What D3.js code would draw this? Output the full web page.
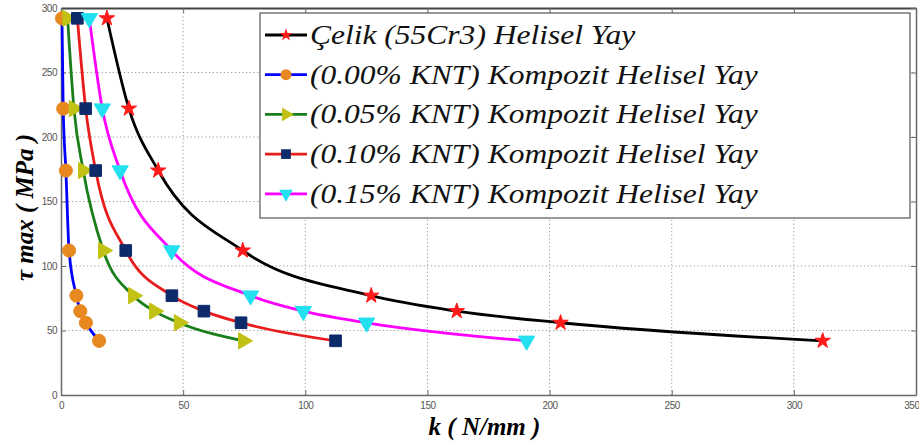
<!DOCTYPE html>
<html>
<head>
<meta charset="utf-8">
<script src="https://cdn.jsdelivr.net/npm/d3@7"></script>
<style>
  body { margin: 0; background: #fff; }
  svg { display: block; }
</style>
</head>
<body>
<script>
// tau max (MPa) levels, shared by every series
const tauValues = [292, 222, 174, 112, 77, 65, 56, 42];

// k (N/mm) for each spring
const kSteel = [18.8, 27.8, 39.8, 74.4, 127, 162, 204.5, 311.8];
const kKnt000 = [0.4, 0.9, 2.0, 3.3, 6.3, 7.9, 10.2, 15.6];
const kKnt005 = [2.7, 5.3, 9.1, 17.3, 29.6, 38.2, 48.3, 74.6];
const kKnt010 = [6.7, 10.1, 14.2, 26.5, 45.4, 58.5, 73.7, 112.4];
const kKnt015 = [11.6, 16.9, 24.2, 45.3, 77.6, 99.2, 125.1, 190.6];

const seriesNames = [
    'Çelik (55Cr3) Helisel Yay',
    '(0.00% KNT) Kompozit Helisel Yay',
    '(0.05% KNT) Kompozit Helisel Yay',
    '(0.10% KNT) Kompozit Helisel Yay',
    '(0.15% KNT) Kompozit Helisel Yay'
];

const xTicks = [0, 50, 100, 150, 200, 250, 300, 350];
const yTicks = [0, 50, 100, 150, 200, 250, 300];

const width = 919, height = 445;
const margin = {left: 61, right: 3, top: 8, bottom: 50};
const serifFont = 'Liberation Serif';

const styles = [
    {line: '#000000', fill: '#ff1a1a', symbol: d3.symbolStar, size: 75, rot: 0},
    {line: '#0000ff', fill: '#e8891f', symbol: d3.symbolCircle, size: 135, rot: 0},
    {line: '#1a7f1a', fill: '#c2c214', symbol: d3.symbolTriangle, size: 115, rot: 90},
    {line: '#e81c1c', fill: '#0d2a6b', symbol: d3.symbolSquare, size: 135, rot: 0},
    {line: '#ff00ff', fill: '#22e0f0', symbol: d3.symbolTriangle, size: 115, rot: 180}
];

const series = [kSteel, kKnt000, kKnt005, kKnt010, kKnt015].map((ks, i) => ({
    name: seriesNames[i],
    style: styles[i],
    points: ks.map((k, j) => ({k: k, tau: tauValues[j]}))
}));

const x = d3.scaleLinear().domain([0, 350]).range([margin.left, width - margin.right]);
const y = d3.scaleLinear().domain([0, 300]).range([height - margin.bottom, margin.top]);

const svg = d3.select('body').append('svg')
    .attr('width', width)
    .attr('height', height);

// dotted grid
const grid = svg.append('g').attr('stroke', '#9a9a9a').attr('stroke-dasharray', '1.2,2.5').attr('stroke-width', 1);
grid.selectAll('line.vx')
    .data(xTicks.slice(1, -1))
    .join('line')
    .attr('class', 'vx')
    .attr('x1', d => x(d)).attr('x2', d => x(d))
    .attr('y1', y(0)).attr('y2', y(300));
grid.selectAll('line.hy')
    .data(yTicks.slice(1, -1))
    .join('line')
    .attr('class', 'hy')
    .attr('x1', x(0)).attr('x2', x(350))
    .attr('y1', d => y(d)).attr('y2', d => y(d));

// axes, ticks inside like matlab
const axisColor = '#6a6a6a';
const axBottom = svg.append('g')
    .attr('transform', `translate(0,${y(0)})`)
    .call(d3.axisBottom(x).tickValues(xTicks).tickSizeInner(-5).tickSizeOuter(0).tickPadding(7));
const axLeft = svg.append('g')
    .attr('transform', `translate(${x(0)},0)`)
    .call(d3.axisLeft(y).tickValues(yTicks).tickSizeInner(-5).tickSizeOuter(0).tickPadding(4));
const axTop = svg.append('g')
    .attr('transform', `translate(0,${y(300)})`)
    .call(d3.axisTop(x).tickValues(xTicks).tickSizeInner(-5).tickSizeOuter(0).tickFormat(''));
const axRight = svg.append('g')
    .attr('transform', `translate(${x(350)},0)`)
    .call(d3.axisRight(y).tickValues(yTicks).tickSizeInner(-5).tickSizeOuter(0).tickFormat(''));

[axBottom, axLeft, axTop, axRight].forEach(g => {
    g.attr('font-family', 'Liberation Sans').attr('font-size', 10);
    g.selectAll('path').attr('stroke', axisColor).attr('stroke-width', 1.5);
    g.selectAll('line').attr('stroke', axisColor);
    g.selectAll('text')
        .attr('fill', '#555')
        .attr('letter-spacing', -0.5);
});
axTop.select('path').attr('stroke', '#444').attr('stroke-width', 2);
// last x label sits at the window edge, keep it inside
axBottom.selectAll('.tick text').filter(d => d === 350).attr('text-anchor', 'end').attr('dx', 3);

// curves
const line = d3.line()
    .x(d => x(d.k))
    .y(d => y(d.tau))
    .curve(d3.curveMonotoneX);

svg.append('g')
    .selectAll('path')
    .data(series)
    .join('path')
    .attr('fill', 'none')
    .attr('stroke', d => d.style.line)
    .attr('stroke-width', 2.8)
    .attr('d', d => line(d.points));

// markers
const markerPath = s => d3.symbol().type(s.symbol).size(s.size)();
series.forEach(s => {
    svg.append('g')
        .selectAll('path')
        .data(s.points)
        .join('path')
        .attr('d', markerPath(s.style))
        .attr('fill', s.style.fill)
        .attr('stroke', s.style.fill)
        .attr('stroke-width', 1)
        .attr('transform', d => `translate(${x(d.k)},${y(d.tau)}) rotate(${s.style.rot})`);
});

// legend
const legend = svg.append('g');
legend.append('rect')
    .attr('x', 260).attr('y', 13)
    .attr('width', 650).attr('height', 205)
    .attr('fill', '#fff')
    .attr('stroke', '#555')
    .attr('stroke-width', 1.2);

const rowY = i => 35 + i * 39.7;
const rows = legend.selectAll('g.row')
    .data(series)
    .join('g')
    .attr('transform', (d, i) => `translate(0,${rowY(i)})`);
rows.append('line')
    .attr('x1', 265).attr('x2', 307)
    .attr('stroke', d => d.style.line)
    .attr('stroke-width', 2.8);
rows.append('path')
    .attr('d', d => d3.symbol().type(d.style.symbol).size(d.style.size * 0.7)())
    .attr('fill', d => d.style.fill)
    .attr('transform', d => `translate(286,0) rotate(${d.style.rot})`);
const labels = rows.append('text')
    .attr('x', 0)
    .attr('y', 9)
    .attr('font-family', serifFont)
    .attr('font-style', 'italic')
    .attr('font-size', 28)
    .attr('fill', '#111')
    .text(d => d.name);

// stretch legend text horizontally so the longest entry fills its width
const longest = d3.max(labels.nodes(), n => n.getComputedTextLength());
const sx = 448 / longest;
labels.attr('transform', `translate(310,0) scale(${sx},1)`);

// axis titles
svg.append('text')
    .attr('x', (x(0) + x(350)) / 2 - 4)
    .attr('y', 435)
    .attr('text-anchor', 'middle')
    .attr('font-family', serifFont)
    .attr('font-style', 'italic')
    .attr('font-weight', 'bold')
    .attr('font-size', 25)
    .text('k ( N/mm )');

svg.append('text')
    .attr('transform', `translate(33,${(y(0) + y(300)) / 2 + 6}) rotate(-90)`)
    .attr('text-anchor', 'middle')
    .attr('font-family', serifFont)
    .attr('font-style', 'italic')
    .attr('font-weight', 'bold')
    .attr('font-size', 25)
    .text('τ max ( MPa )');
</script>
</body>
</html>
